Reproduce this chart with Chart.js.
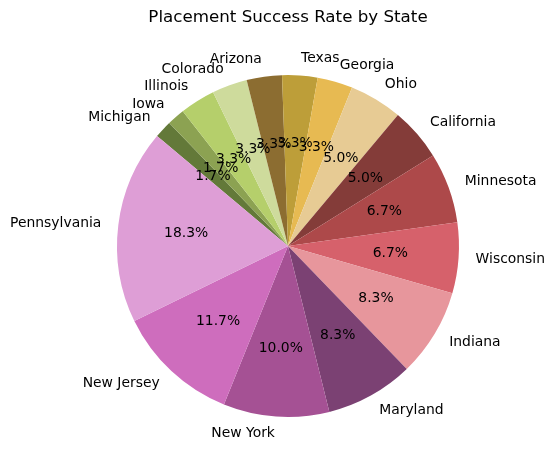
<!DOCTYPE html>
<html>
<head>
<meta charset="utf-8">
<script src="https://cdn.jsdelivr.net/npm/chart.js@4"></script>
<style>
  html, body { margin: 0; padding: 0; background: #ffffff; }
  #wrap { width: 554px; height: 470px; }
</style>
</head>
<body>
<div id="wrap"><canvas id="c" width="554" height="470"></canvas></div>
<script>
// Slices in matplotlib (counter-clockwise) order, starting at 140°
const states = ["Pennsylvania", "New Jersey", "New York", "Maryland", "Indiana", "Wisconsin",
  "Minnesota", "California", "Ohio", "Georgia", "Texas", "Arizona", "Colorado", "Illinois",
  "Iowa", "Michigan"];
const counts = [11, 7, 6, 5, 5, 4, 4, 3, 3, 2, 2, 2, 2, 2, 1, 1];
const colors = ["#de9ed6", "#ce6dbd", "#a55194", "#7b4173", "#e7969c", "#d6616b",
  "#ad494a", "#843c39", "#e7cb94", "#e7ba52", "#bd9e39", "#8c6d31", "#cedb9c", "#b5cf6b",
  "#8ca252", "#637939"];
const titleText = "Placement Success Rate by State";

// Chart.js draws clockwise, so reverse to mimic counter-clockwise layout
const labelsCW = states.slice().reverse();
const countsCW = counts.slice().reverse();
const colorsCW = colors.slice().reverse();
const total = counts.reduce((a, b) => a + b, 0);

const FONT = "'DejaVu Sans', sans-serif";

const labelPlugin = {
  id: 'pieLabels',
  afterDatasetsDraw(chart) {
    const ctx = chart.ctx;
    const meta = chart.getDatasetMeta(0);
    ctx.save();
    ctx.fillStyle = '#000000';
    ctx.textBaseline = 'middle';
    meta.data.forEach((arc, i) => {
      const p = arc.getProps(['x', 'y', 'startAngle', 'endAngle', 'outerRadius'], true);
      const mid = (p.startAngle + p.endAngle) / 2;
      const c = Math.cos(mid), s = Math.sin(mid);
      // outer label
      ctx.font = "13.9px " + FONT;
      const lx = p.x + 1.1 * p.outerRadius * c;
      const ly = p.y + 1.1 * p.outerRadius * s;
      ctx.textAlign = c > 0 ? 'left' : 'right';
      ctx.fillText(chart.data.labels[i], lx, ly);
      // percentage
      const v = chart.data.datasets[0].data[i];
      const pct = (v / total * 100).toFixed(1) + '%';
      ctx.textAlign = 'center';
      ctx.fillText(pct, p.x + 0.6 * p.outerRadius * c, p.y + 0.6 * p.outerRadius * s);
    });
    ctx.restore();
  }
};

new Chart(document.getElementById('c'), {
  type: 'pie',
  data: {
    labels: labelsCW,
    datasets: [{
      data: countsCW,
      backgroundColor: colorsCW,
      borderWidth: 0,
      hoverOffset: 0
    }]
  },
  options: {
    responsive: false,
    animation: false,
    devicePixelRatio: 1,
    rotation: -50,
    layout: { padding: { left: 117, right: 95, top: 0, bottom: 53 } },
    plugins: {
      legend: { display: false },
      tooltip: { enabled: false },
      title: {
        display: true,
        text: titleText,
        color: '#000000',
        font: { family: FONT, size: 16.7, weight: 'normal', lineHeight: 1.2 },
        padding: { top: 8, bottom: 47 }
      }
    }
  },
  plugins: [labelPlugin]
});
</script>
</body>
</html>
